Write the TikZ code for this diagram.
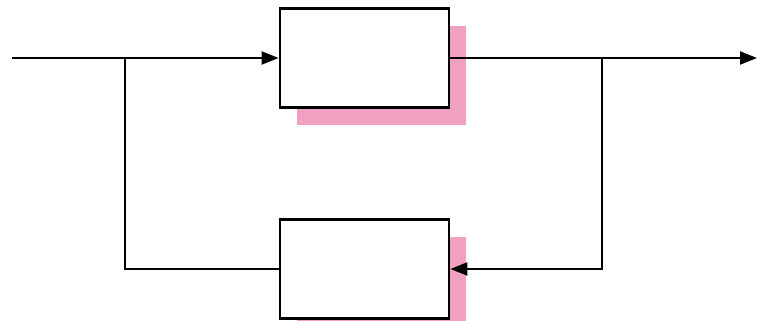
\documentclass[tikz,border=0pt]{standalone}
\usepackage{tikz}
\usetikzlibrary{arrows.meta,shadows}

\definecolor{shadowpink}{RGB}{240,160,192}

\begin{document}
\begin{tikzpicture}[
  block/.style={draw, line width=1.6pt, fill=white, minimum width=3.38cm, minimum height=1.98cm,
    drop shadow={shadow xshift=0.34cm, shadow yshift=-0.34cm, fill=shadowpink, opacity=1}},
  wire/.style={line width=1.25pt},
  tip/.style={-{Triangle[length=0.34cm,width=0.26cm]}}
]
\useasboundingbox (0,0) rectangle (15.14,6.4);

\node[block] (fwd) at (7.29,5.24) {};
\node[block] (back) at (7.29,1.02) {};

\coordinate (in) at (0.24,5.24);
\coordinate (out) at (15.14,5.24);
\coordinate (splitL) at (2.5,5.24);
\coordinate (splitR) at (12.04,5.24);

\draw[wire,tip] (in) -- (fwd.west);
\draw[wire,tip] (fwd.east) -- (out);

\draw[wire] (splitL) |- (back.west);
\draw[wire,tip] (splitR) |- (back.east);
\end{tikzpicture}
\end{document}
